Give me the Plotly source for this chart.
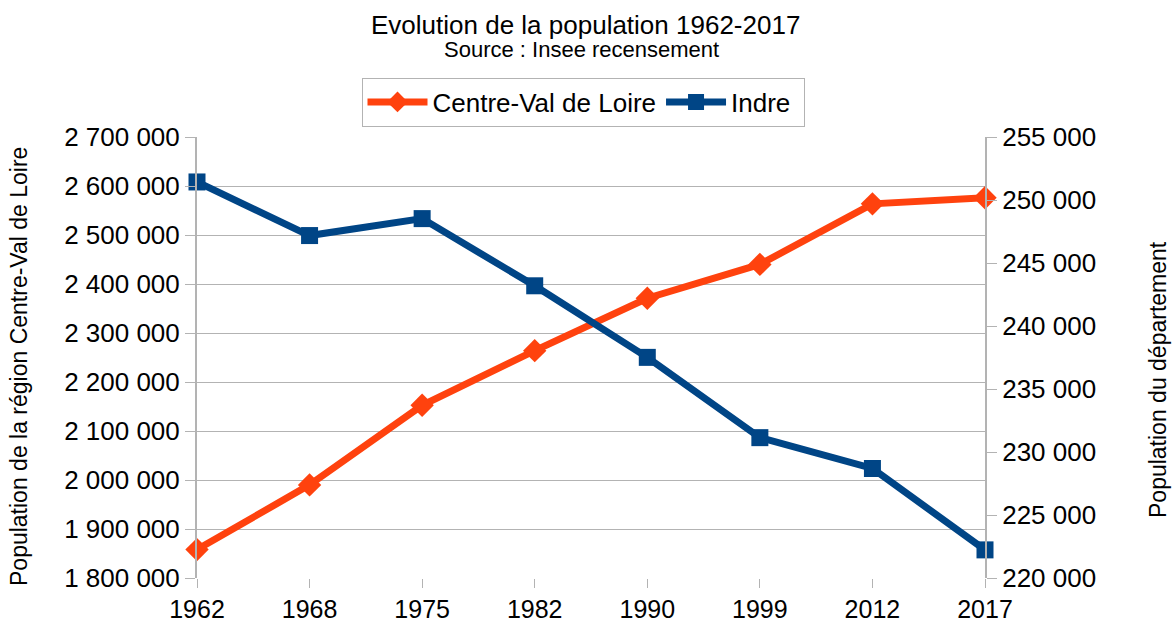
import plotly.graph_objects as go

years = ["1962", "1968", "1975", "1982", "1990", "1999", "2012", "2017"]
centre = [1858000, 1990000, 2152500, 2264000, 2371000, 2440000, 2563600, 2576000]
indre = [251432, 247178, 248523, 243191, 237510, 231139, 228692, 222232]

ORANGE = "#ff420e"
BLUE = "#004586"
GRID = "#b3b3b3"
FONT = "Liberation Sans, Arial, sans-serif"

W, H = 1172, 619
L, R, T, B = 197, 187, 137, 41
PW, PH = W - L - R, H - T - B


def px(xs):
    return (xs - L) / PW


def py(ys):
    return (H - B - ys) / PH


fig = go.Figure()
fig.add_trace(go.Scatter(
    x=years, y=centre, name="Centre-Val de Loire", mode="lines+markers",
    line=dict(color=ORANGE, width=7),
    marker=dict(symbol="diamond", size=18, color=ORANGE),
    cliponaxis=False, yaxis="y"))
fig.add_trace(go.Scatter(
    x=years, y=indre, name="Indre ", mode="lines+markers",
    line=dict(color=BLUE, width=7),
    marker=dict(symbol="square", size=17, color=BLUE),
    cliponaxis=False, yaxis="y2"))

fig.update_layout(
    width=W, height=H,
    margin=dict(l=L, r=R, t=T, b=B, autoexpand=False),
    paper_bgcolor="white", plot_bgcolor="white",
    separators=", ",
    font=dict(family=FONT, size=26, color="black"),
    showlegend=True,
    legend=dict(orientation="h", xref="container", yref="container",
                x=583 / W, xanchor="center", y=1 - 102 / H, yanchor="middle",
                bordercolor=GRID, borderwidth=1, font=dict(size=26),
                itemwidth=60, tracegroupgap=0),
    xaxis=dict(type="category", range=[0, 7], showgrid=False, automargin=False,
               showline=False, ticks="outside", ticklen=9, tickcolor=GRID,
               tickfont=dict(size=25), zeroline=False),
    yaxis=dict(range=[1800000, 2700000], dtick=100000, tickformat=",d",
               automargin=False,
               showgrid=True, gridcolor=GRID, gridwidth=1,
               showline=True, linecolor=GRID, linewidth=2,
               ticks="outside", ticklen=10, tickcolor=GRID,
               zeroline=False, tickfont=dict(size=26)),
    yaxis2=dict(range=[220000, 255000], dtick=5000, tickformat=",d",
                automargin=False,
                overlaying="y", side="right", showgrid=False,
                showline=True, linecolor=GRID, linewidth=2,
                ticks="outside", ticklen=10, tickcolor=GRID,
                zeroline=False, tickfont=dict(size=26)),
    annotations=[
        dict(text="Evolution de la population 1962-2017", xref="paper", yref="paper",
             x=px(585), y=py(25), xanchor="center", yanchor="middle",
             showarrow=False, font=dict(size=26)),
        dict(text="Source : Insee recensement", xref="paper", yref="paper",
             x=px(581), y=py(49), xanchor="center", yanchor="middle",
             showarrow=False, font=dict(size=22)),
        dict(text="Population de la région Centre-Val de Loire", xref="paper", yref="paper",
             x=px(19), y=py(367), xanchor="center", yanchor="middle",
             textangle=-90, showarrow=False, font=dict(size=23)),
        dict(text="Population du département", xref="paper", yref="paper",
             x=px(1158), y=py(380), xanchor="center", yanchor="middle",
             textangle=-90, showarrow=False, font=dict(size=23)),
    ],
)

fig.write_html(
    "out.html",
    config={"displayModeBar": False},
    post_script="document.body.style.margin='0';document.body.style.overflow='hidden';",
)
